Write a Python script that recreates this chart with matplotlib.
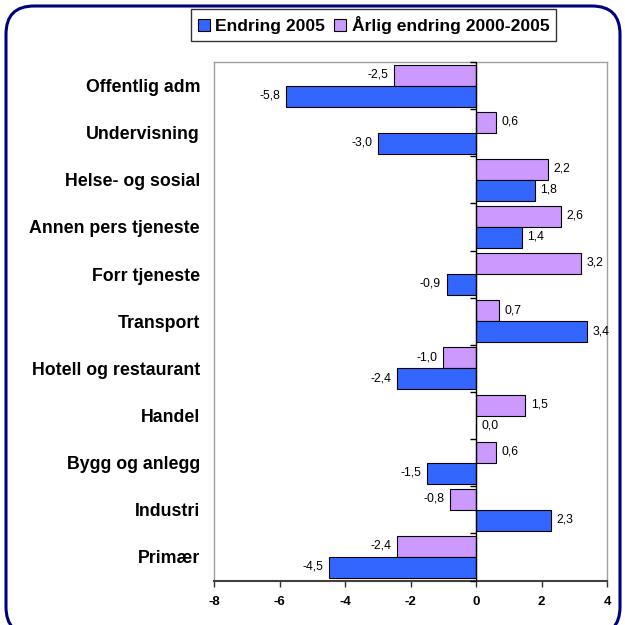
import matplotlib
matplotlib.use("Agg")
import matplotlib.pyplot as plt
from matplotlib.patches import FancyBboxPatch, Patch
import numpy as np

categories = ["Offentlig adm", "Undervisning", "Helse- og sosial", "Annen pers tjeneste",
              "Forr tjeneste", "Transport", "Hotell og restaurant", "Handel",
              "Bygg og anlegg", "Industri", "Primær"]
endring_2005 = [-5.8, -3.0, 1.8, 1.4, -0.9, 3.4, -2.4, 0.0, -1.5, 2.3, -4.5]
arlig_endring = [-2.5, 0.6, 2.2, 2.6, 3.2, 0.7, -1.0, 1.5, 0.6, -0.8, -2.4]
series_names = ["Endring 2005", "Årlig endring 2000-2005"]
x_ticks = [-8, -6, -4, -2, 0, 2, 4]

blue = "#3366FF"
purple = "#CC99FF"

plt.rcParams['font.family'] = ['Liberation Sans', 'DejaVu Sans']

fig = plt.figure(figsize=(6.25, 6.25), dpi=100)
ax = fig.add_axes([214/625, 1-580.5/625, (607-214)/625, (580.5-62)/625])

y = np.arange(len(categories))
h = 0.445
bp = ax.barh(y - h/2, arlig_endring, height=h, color=purple, edgecolor="black", linewidth=0.8)
bb = ax.barh(y + h/2, endring_2005, height=h, color=blue, edgecolor="black", linewidth=0.8)

def fmt(v):
    return f"{v:.1f}".replace(".", ",")

for bars, vals in ((bp, arlig_endring), (bb, endring_2005)):
    for rect, v in zip(bars, vals):
        yc = rect.get_y() + rect.get_height()/2
        if v < 0:
            ax.annotate(fmt(v), (v, yc), xytext=(-4, 0.5), textcoords="offset points",
                        ha="right", va="center", fontsize=8.8)
        else:
            ax.annotate(fmt(v), (v, yc), xytext=(4, 0.5), textcoords="offset points",
                        ha="left", va="center", fontsize=8.8)

ax.set_xlim(-8, 4)
ax.set_ylim(len(categories) - 0.5, -0.5)
ax.set_xticks(x_ticks)
ax.set_xticklabels([str(t) for t in x_ticks], fontsize=9.5, fontweight="bold")
ax.set_yticks(y)
ax.set_yticklabels(categories, fontsize=12.8, fontweight="bold")
ax.tick_params(axis="y", length=0, pad=10)
ax.tick_params(axis="x", length=4, width=1, color="#303030", pad=7, direction="out")

for s in ("top", "right", "left"):
    ax.spines[s].set_color("#A0A0A0")
    ax.spines[s].set_linewidth(1)
ax.spines["bottom"].set_color("#404040")
ax.spines["bottom"].set_linewidth(1.5)

# category axis at zero
ax.axvline(0, color="black", linewidth=1, zorder=3)
bounds = np.arange(len(categories) + 1) - 0.5
ax.plot([0]*len(bounds), bounds, linestyle="none", marker=0, markersize=4,
        markeredgewidth=1, color="black", clip_on=False, zorder=3)

handles = [Patch(facecolor=blue, edgecolor="black", linewidth=0.8),
           Patch(facecolor=purple, edgecolor="black", linewidth=0.8)]
leg = fig.legend(handles, series_names, loc="center", bbox_to_anchor=(373.5/625, 1-25/625),
                 ncol=2, frameon=True, fancybox=False, edgecolor="black",
                 prop={"weight": "bold", "size": 12.6}, handlelength=0.7, handleheight=0.7,
                 handletextpad=0.3, columnspacing=0.5, borderpad=0.4, borderaxespad=0)
leg.get_frame().set_linewidth(1)

border = FancyBboxPatch((6/625, -10/625), 614/625, 629/625,
                        boxstyle="round,pad=0,rounding_size=0.045",
                        transform=fig.transFigure, facecolor="none",
                        edgecolor="#000080", linewidth=2.2, zorder=10)
fig.patches.append(border)

fig.savefig("out.png", dpi=100)
